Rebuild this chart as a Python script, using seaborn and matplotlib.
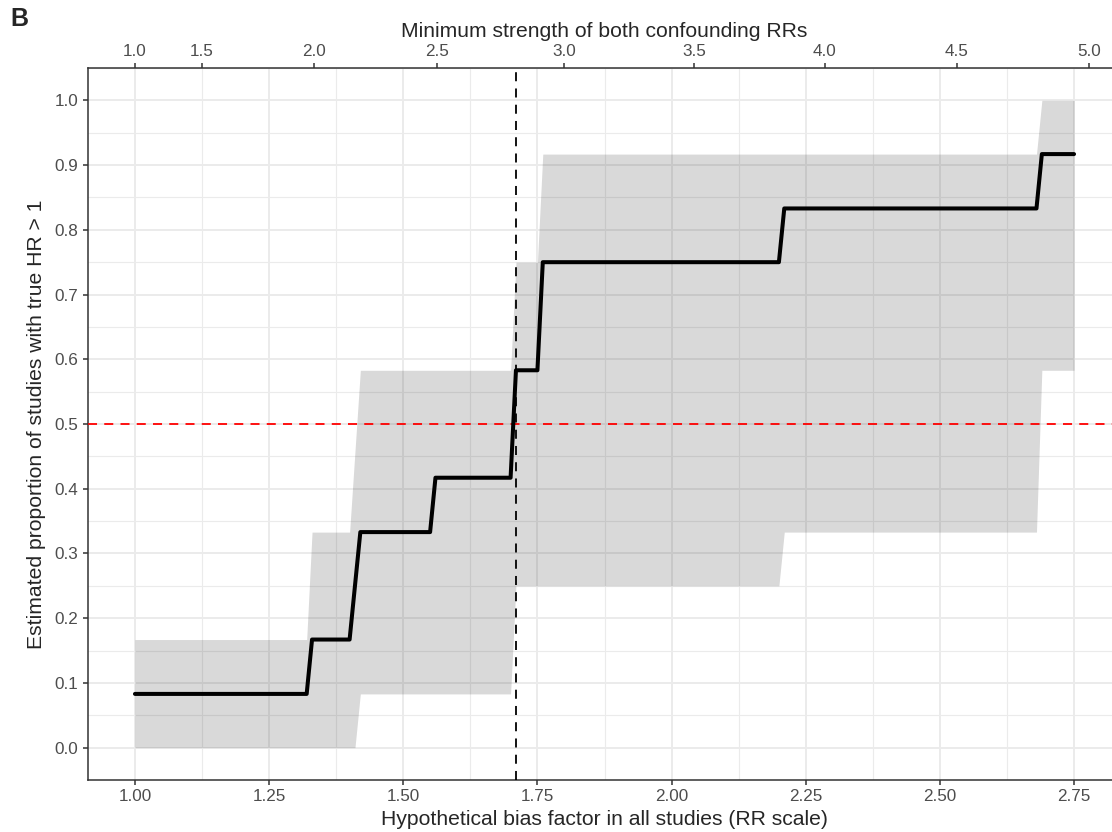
import numpy as np
import pandas as pd
import matplotlib
matplotlib.use("Agg")
import matplotlib.pyplot as plt
from matplotlib.ticker import MultipleLocator
import seaborn as sns

# bias factor grid points where the step curve / band change
bias = [1.00, 1.32, 1.33, 1.40, 1.41, 1.42, 1.55, 1.56, 1.70, 1.71,
        1.75, 1.76, 2.20, 2.21, 2.68, 2.69, 2.75]
prop = [0.083, 0.083, 0.167, 0.167, 0.250, 0.333, 0.333, 0.417, 0.417, 0.583,
        0.583, 0.750, 0.750, 0.833, 0.833, 0.917, 0.917]
lo = [0.000, 0.000, 0.000, 0.000, 0.000, 0.083, 0.083, 0.083, 0.083, 0.250,
      0.250, 0.250, 0.250, 0.333, 0.333, 0.583, 0.583]
hi = [0.167, 0.167, 0.333, 0.333, 0.458, 0.583, 0.583, 0.583, 0.583, 0.750,
      0.750, 0.917, 0.917, 0.917, 0.917, 1.000, 1.000]

x_ticks = [1.00, 1.25, 1.50, 1.75, 2.00, 2.25, 2.50, 2.75]
y_ticks = [0.0, 0.1, 0.2, 0.3, 0.4, 0.5, 0.6, 0.7, 0.8, 0.9, 1.0]
evalue_ticks = [1.0, 1.5, 2.0, 2.5, 3.0, 3.5, 4.0, 4.5, 5.0]
bias_cut = 1.71
threshold = 0.5

df = pd.DataFrame({"bias": bias, "prop": prop, "lo": lo, "hi": hi})

sns.set_theme(style="whitegrid")
plt.rcParams["font.family"] = ["Liberation Sans", "DejaVu Sans"]

fig = plt.figure(figsize=(11.12, 8.32), dpi=100)
ax = fig.add_axes([88 / 1112, 52 / 832, (1121 - 88) / 1112, 712 / 832])

ax.set_facecolor("white")
ax.set_axisbelow(True)
ax.xaxis.set_minor_locator(MultipleLocator(0.125))
ax.yaxis.set_minor_locator(MultipleLocator(0.05))
ax.grid(which="major", color="#ebebeb", lw=1.4)
ax.grid(which="minor", color="#ebebeb", lw=0.8)

ax.fill_between(df["bias"], df["lo"], df["hi"], color="black", alpha=0.15,
                lw=0, zorder=2)
ax.axhline(threshold, color="red", ls=(0, (5, 4)), lw=1.3, zorder=3)
ax.axvline(bias_cut, color="black", ls=(0, (5, 4)), lw=1.3, zorder=3)
sns.lineplot(data=df, x="bias", y="prop", color="black", lw=2.9,
             estimator=None, sort=False, ax=ax, zorder=4)

ax.set_xlim(0.9125, 2.8375)
ax.set_ylim(-0.05, 1.05)
ax.set_xticks(x_ticks)
ax.set_xticklabels([f"{v:.2f}" for v in x_ticks])
ax.set_yticks(y_ticks)
ax.set_yticklabels([f"{v:.1f}" for v in y_ticks])

for s in ["left", "bottom", "top"]:
    ax.spines[s].set_color("#333333")
    ax.spines[s].set_linewidth(1.1)
ax.spines["right"].set_visible(False)

ax.tick_params(which="major", length=3.6, width=1.1, color="#333333",
               labelcolor="#4d4d4d", labelsize=12.3, pad=3.2,
               bottom=True, left=True)
ax.tick_params(which="minor", length=0)
ax.set_xlabel("Hypothetical bias factor in all studies (RR scale)",
              fontsize=15.2, labelpad=4)
ax.set_ylabel("Estimated proportion of studies with true HR > 1",
              fontsize=15.2, labelpad=6)

# top axis: minimum confounding RR strength (E-value) for each bias factor
ax2 = ax.twiny()
ax2.set_xlim(ax.get_xlim())
ax2.grid(False)
ax2.set_xticks([e * e / (2 * e - 1) for e in evalue_ticks])
ax2.set_xticklabels([f"{e:.1f}" for e in evalue_ticks])
ax2.tick_params(length=3.6, width=1.1, color="#333333", labelcolor="#4d4d4d",
                labelsize=12.3, pad=3.2, top=True)
for s in ax2.spines.values():
    s.set_visible(False)
ax2.set_xlabel("Minimum strength of both confounding RRs", fontsize=15.2,
               labelpad=5)

fig.text(10 / 1112, 1 - 19 / 832, "B", fontsize=18, fontweight="bold",
         va="center", ha="left")

fig.savefig("out.png", dpi=100)
